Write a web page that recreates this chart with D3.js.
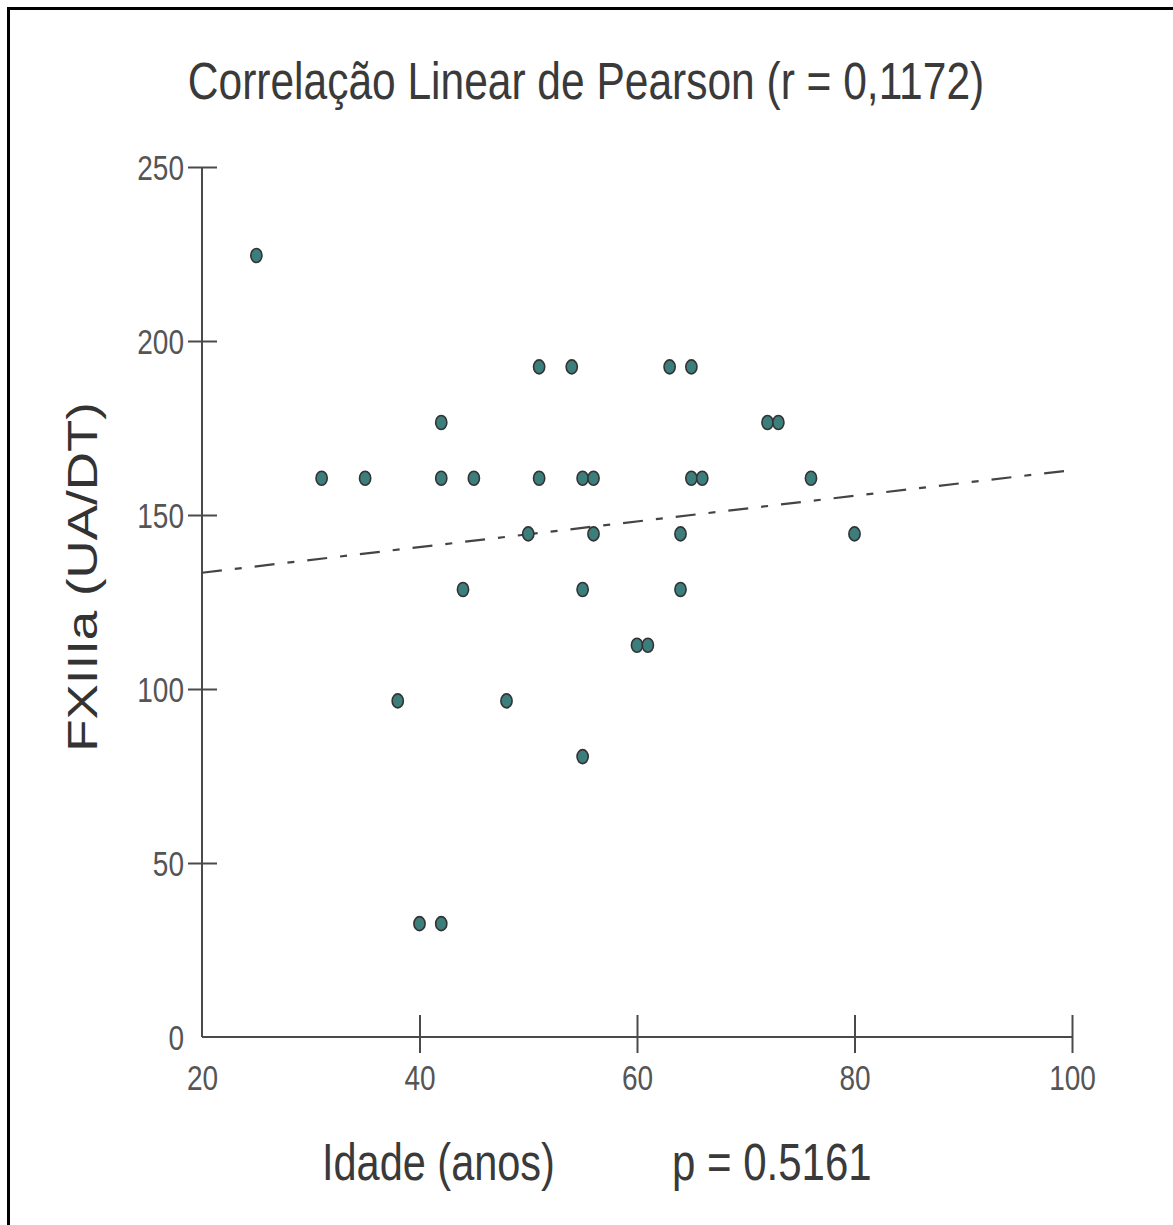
<!DOCTYPE html>
<html>
<head>
<meta charset="utf-8">
<script src="https://cdn.jsdelivr.net/npm/d3@7"></script>
<style>
  html, body { margin: 0; padding: 0; background: #fff; }
  svg { display: block; }
  text { font-family: "Liberation Sans", Arial, sans-serif; fill: #3a3a3a; }
</style>
</head>
<body>
<svg id="chart" width="1173" height="1225"></svg>
<script>
// Age (years) and FXIIIa activity (UA/DT) for each patient
const ages    = [25, 31, 35, 42, 42, 45, 51, 54, 51, 50, 55, 56, 56, 44, 55, 38,
                 48, 55, 40, 42, 63, 65, 72, 73, 65, 66, 76, 80, 64, 64, 60, 61];
const fxiiia  = [224, 160, 160, 176, 160, 160, 192, 192, 160, 144, 160, 160, 144, 128, 128, 96,
                 96, 80, 32, 32, 192, 192, 176, 176, 160, 160, 160, 144, 144, 128, 112, 112];

// Fitted regression line, evaluated at the ends of the age axis
const trendAge    = [20, 100];
const trendFXIIIa = [133.4, 162.9];

// Axis ticks
const ageTicks = [20, 40, 60, 80, 100];
const fxTicks  = [0, 50, 100, 150, 200, 250];

const titleText = "Correlação Linear de Pearson (r = 0,1172)";
const xLabel    = "Idade (anos)";
const pLabel    = "p = 0.5161";
const yLabel    = "FXIIIa (UA/DT)";

const svg = d3.select("#chart");
const STRETCH = 1.23;           // text is drawn tall and narrow
const axisColor = "#4a4a4a";
const tickTextColor = "#555";

// frame around the figure
svg.append("rect")
  .attr("x", 8.5).attr("y", 8.5)
  .attr("width", 1200).attr("height", 1250)
  .attr("fill", "none").attr("stroke", "#000").attr("stroke-width", 3);

const x = d3.scaleLinear().domain([20, 100]).range([202, 1072]);
const y = d3.scaleLinear().domain([0, 250]).range([1037, 167]);

// Y axis
const yAxis = svg.append("g")
  .attr("transform", `translate(${x(20)},0)`)
  .call(d3.axisLeft(y).tickValues(fxTicks).tickSize(14).tickSizeOuter(0));
yAxis.select(".domain").attr("stroke", axisColor).attr("stroke-width", 2)
  .attr("d", `M0,${y(250)}V${y(0)}`);
yAxis.selectAll(".tick line")
  .attr("stroke", axisColor).attr("stroke-width", 2)
  .attr("x1", 15)
  .attr("display", d => d === 0 ? "none" : null);
yAxis.selectAll(".tick text")
  .attr("x", null).attr("dy", null)
  .style("font-size", "28px").style("fill", tickTextColor)
  .attr("text-anchor", "end")
  .attr("transform", `translate(-18,0) scale(1,${STRETCH})`)
  .attr("y", "0.358em");

// X axis
const xAxis = svg.append("g")
  .attr("transform", `translate(0,${y(0)})`)
  .call(d3.axisBottom(x).tickValues(ageTicks).tickSize(16).tickSizeOuter(0));
xAxis.select(".domain").attr("stroke", axisColor).attr("stroke-width", 2)
  .attr("d", `M${x(20)},0H${x(100)}`);
xAxis.selectAll(".tick line")
  .attr("stroke", axisColor).attr("stroke-width", 2)
  .attr("y1", -22)
  .attr("display", d => d === 20 ? "none" : null);
xAxis.selectAll(".tick text")
  .attr("dy", null)
  .style("font-size", "28px").style("fill", tickTextColor)
  .attr("y", null)
  .attr("transform", `translate(0,53) scale(1,${STRETCH})`);

svg.selectAll(".tick text").style("font-family", '"Liberation Sans", Arial, sans-serif');

// Regression line (dash pattern)
svg.append("line")
  .attr("x1", x(trendAge[0])).attr("y1", y(trendFXIIIa[0]))
  .attr("x2", x(trendAge[1])).attr("y2", y(trendFXIIIa[1]))
  .attr("stroke", "#444").attr("stroke-width", 2.2)
  .attr("stroke-dasharray", "20,13,7,13");

// Points
const pts = ages.map((a, i) => ({ age: a, fx: fxiiia[i] }));
svg.append("g").selectAll("ellipse").data(pts).join("ellipse")
  .attr("cx", d => x(d.age))
  .attr("cy", d => y(d.fx) - 2)
  .attr("rx", 5.6).attr("ry", 7)
  .attr("fill", "#3b7e7b")
  .attr("stroke", "#333").attr("stroke-width", 1.6);

// Title
svg.append("text")
  .attr("transform", `translate(586,99) scale(1,${STRETCH})`)
  .attr("text-anchor", "middle")
  .style("font-size", "42.5px")
  .text(titleText);

// X axis label and p-value
svg.append("text")
  .attr("transform", `translate(322,1180) scale(1,${STRETCH})`)
  .style("font-size", "41.5px")
  .text(xLabel);
svg.append("text")
  .attr("transform", `translate(672,1180) scale(1,${STRETCH})`)
  .style("font-size", "42px")
  .text(pLabel);

// Y axis label
svg.append("text")
  .attr("transform", `translate(97,577) rotate(-90) scale(${STRETCH},1)`)
  .attr("text-anchor", "middle")
  .style("font-size", "43px")
  .style("fill", "#333")
  .text(yLabel);
</script>
</body>
</html>
